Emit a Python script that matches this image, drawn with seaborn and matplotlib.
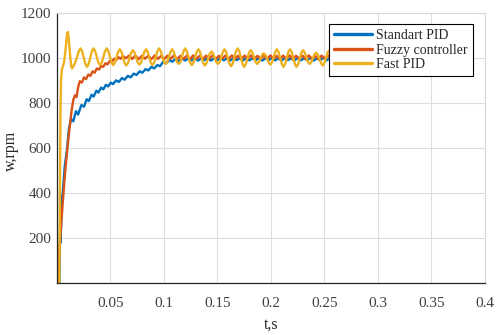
import matplotlib
matplotlib.use("Agg")
import matplotlib.pyplot as plt
from matplotlib.lines import Line2D
import seaborn as sns
import pandas as pd

# ---------------- data ----------------
series_names = ["Standart PID", "Fuzzy controller", "Fast PID"]

std_t = [0.0000, 0.0025, 0.0028, 0.0032, 0.0036, 0.0048, 0.0056, 0.0075, 0.0095, 0.0115,
         0.0135, 0.0155, 0.0180, 0.0200, 0.0230, 0.0255, 0.0280, 0.0300, 0.0325, 0.0345,
         0.0370, 0.0390, 0.0415, 0.0435, 0.0460, 0.0480, 0.0505, 0.0525, 0.0555, 0.0580,
         0.0610, 0.0635, 0.0665, 0.0690, 0.0720, 0.0745, 0.0775, 0.0800, 0.0830, 0.0855,
         0.0885, 0.0910, 0.0940, 0.0965, 0.0995, 0.1020, 0.1050, 0.1080, 0.1110, 0.1140,
         0.1170, 0.1200, 0.1230, 0.1260, 0.1290, 0.1320, 0.1350, 0.1380, 0.1410, 0.1440,
         0.1470, 0.1500, 0.1530, 0.1560, 0.1590, 0.1620, 0.1650, 0.1680, 0.1710, 0.1740,
         0.1770, 0.1800, 0.1830, 0.1860, 0.1890, 0.1920, 0.1950, 0.1980, 0.2010, 0.2040,
         0.2070, 0.2100, 0.2130, 0.2160, 0.2190, 0.2220, 0.2250, 0.2280, 0.2310, 0.2340,
         0.2370, 0.2400, 0.2430, 0.2460, 0.2490, 0.2520, 0.2550, 0.2580, 0.2600]
std_w = [0, 0, 80, 260, 180, 380, 400, 520, 590, 690,
         730, 720, 765, 750, 792, 785, 818, 810, 838, 830,
         856, 848, 870, 862, 882, 875, 892, 885, 902, 895,
         912, 905, 922, 915, 932, 926, 942, 936, 952, 946,
         962, 955, 970, 965, 985, 978, 992, 985, 998, 988,
         1000, 990, 1000, 991, 1002, 990, 1000, 992, 1001, 990,
         1000, 992, 1002, 991, 1000, 990, 1001, 992, 1000, 990,
         1002, 991, 1000, 992, 1001, 990, 1000, 992, 1002, 991,
         1000, 990, 1001, 992, 1000, 990, 1002, 991, 1000, 992,
         1001, 990, 1000, 992, 1002, 991, 1000, 993, 998]

fuzzy_t = [0.0000, 0.0006, 0.0020, 0.0040, 0.0060, 0.0080, 0.0100, 0.0120, 0.0140, 0.0155,
           0.0170, 0.0185, 0.0200, 0.0215, 0.0235, 0.0255, 0.0275, 0.0295, 0.0315, 0.0335,
           0.0355, 0.0375, 0.0395, 0.0415, 0.0435, 0.0455, 0.0475, 0.0495, 0.0515, 0.0535,
           0.0555, 0.0575, 0.0595, 0.0620, 0.0645, 0.0675, 0.0705, 0.0735, 0.0765, 0.0795,
           0.0825, 0.0855, 0.0885, 0.0915, 0.0945, 0.0975, 0.1005, 0.1035, 0.1065, 0.1095,
           0.1125, 0.1155, 0.1185, 0.1215, 0.1245, 0.1275, 0.1305, 0.1335, 0.1365, 0.1395,
           0.1425, 0.1455, 0.1485, 0.1515, 0.1545, 0.1575, 0.1605, 0.1635, 0.1665, 0.1695,
           0.1725, 0.1755, 0.1785, 0.1815, 0.1845, 0.1875, 0.1905, 0.1935, 0.1965, 0.1995,
           0.2025, 0.2055, 0.2085, 0.2115, 0.2145, 0.2175, 0.2205, 0.2235, 0.2265, 0.2295,
           0.2325, 0.2355, 0.2385, 0.2415, 0.2445, 0.2475, 0.2505, 0.2535, 0.2565, 0.2595]
fuzzy_w = [70, 0, 110, 250, 380, 500, 600, 690, 770, 815,
           835, 828, 870, 898, 892, 915, 908, 928, 922, 942,
           936, 955, 950, 966, 962, 978, 973, 988, 984, 998,
           992, 1005, 998, 1010, 1000, 1012, 997, 1013, 996, 1011,
           998, 1012, 996, 1013, 997, 1011, 996, 1012, 998, 1013,
           996, 1011, 997, 1012, 996, 1013, 998, 1011, 996, 1012,
           997, 1013, 996, 1011, 998, 1012, 996, 1013, 997, 1011,
           996, 1012, 998, 1013, 996, 1011, 997, 1012, 996, 1013,
           998, 1011, 996, 1012, 997, 1013, 996, 1011, 998, 1012,
           996, 1013, 997, 1011, 996, 1012, 998, 1013, 996, 1008]

fast_t = [0.0000, 0.0025, 0.0030, 0.0035, 0.0040, 0.0048, 0.0058, 0.0070, 0.0085, 0.0096,
          0.0103, 0.0110, 0.0122, 0.0135, 0.0143, 0.0152, 0.0170, 0.0190,
          0.0207, 0.0222, 0.0237, 0.0268, 0.0283, 0.0298, 0.0329, 0.0344, 0.0359,
          0.0390, 0.0405, 0.0420, 0.0452, 0.0467, 0.0482, 0.0513, 0.0528, 0.0543,
          0.0574, 0.0589, 0.0604, 0.0635, 0.0650, 0.0665, 0.0696, 0.0711, 0.0726,
          0.0757, 0.0772, 0.0787, 0.0819, 0.0834, 0.0849, 0.0880, 0.0895, 0.0910,
          0.0941, 0.0956, 0.0971, 0.1002, 0.1017, 0.1032, 0.1063, 0.1078, 0.1093,
          0.1124, 0.1139, 0.1154, 0.1185, 0.1200, 0.1215, 0.1247, 0.1262, 0.1277,
          0.1308, 0.1323, 0.1338, 0.1369, 0.1384, 0.1399, 0.1430, 0.1445, 0.1460,
          0.1491, 0.1506, 0.1521, 0.1552, 0.1567, 0.1582, 0.1613, 0.1628, 0.1643,
          0.1675, 0.1690, 0.1705, 0.1736, 0.1751, 0.1766, 0.1797, 0.1812, 0.1827,
          0.1858, 0.1873, 0.1888, 0.1919, 0.1934, 0.1949, 0.1980, 0.1995, 0.2010,
          0.2041, 0.2056, 0.2071, 0.2103, 0.2118, 0.2133, 0.2164, 0.2179, 0.2194,
          0.2225, 0.2240, 0.2255, 0.2286, 0.2301, 0.2316, 0.2347, 0.2362, 0.2377,
          0.2408, 0.2423, 0.2438, 0.2469, 0.2484, 0.2499, 0.2531, 0.2546, 0.2561,
          0.2600]
fast_w = [0, 0, 350, 750, 900, 950, 965, 985, 1050, 1105,
          1117, 1100, 1030, 965, 955, 962, 978, 1005,
          1032, 1044, 1032, 974, 962, 974, 1032, 1044, 1032,
          980, 970, 980, 1032, 1044, 1032, 980, 970, 980,
          1029, 1040, 1029, 978, 968, 978, 1026, 1036, 1026,
          981, 972, 981, 1029, 1040, 1029, 980, 970, 980,
          1032, 1044, 1032, 983, 975, 983, 1029, 1040, 1029,
          983, 975, 983, 1032, 1044, 1032, 980, 970, 980,
          1029, 1040, 1029, 978, 968, 978, 1022, 1030, 1022,
          983, 975, 983, 1029, 1040, 1029, 976, 965, 976,
          1032, 1044, 1032, 974, 962, 974, 1026, 1036, 1026,
          983, 975, 983, 1016, 1022, 1016, 981, 972, 981,
          1029, 1040, 1029, 974, 962, 974, 1029, 1040, 1029,
          974, 962, 974, 1026, 1036, 1026, 983, 975, 983,
          1018, 1025, 1018, 978, 968, 978, 1026, 1036, 1026,
          1000]

x_ticks = [0, 0.05, 0.1, 0.15, 0.2, 0.25, 0.3, 0.35, 0.4]
x_tick_labels = ["", "0.05", "0.1", "0.15", "0.2", "0.25", "0.3", "0.35", "0.4"]
y_ticks = [0, 200, 400, 600, 800, 1000, 1200]
y_tick_labels = ["", "200", "400", "600", "800", "1000", "1200"]
colors = ["#0072BD", "#D95319", "#EDB120"]

# ---------------- build long table ----------------
frames = []
for name, t, w in zip(series_names, [std_t, fuzzy_t, fast_t], [std_w, fuzzy_w, fast_w]):
    frames.append(pd.DataFrame({"t": t, "w": w, "series": name}))
df = pd.concat(frames, ignore_index=True)

sns.set_theme(style="whitegrid")
plt.rcParams["font.family"] = ["Liberation Serif", "DejaVu Serif"]

fig = plt.figure(figsize=(5.02, 3.35), dpi=100)
ax = fig.add_axes([56.7 / 502, (335 - 283.3) / 335, (485 - 56.7) / 502, (283.3 - 13.3) / 335])

sns.lineplot(data=df, x="t", y="w", hue="series", hue_order=series_names,
             palette=colors, estimator=None, sort=False, linewidth=1.7, ax=ax,
             legend=False)
for ln in ax.lines:
    ln.set_solid_joinstyle("round")

ax.set_xlim(0, 0.4)
ax.set_ylim(0, 1200)
ax.set_xticks(x_ticks)
ax.set_xticklabels(x_tick_labels)
ax.set_yticks(y_ticks)
ax.set_yticklabels(y_tick_labels)
ax.tick_params(axis="both", labelsize=11, labelcolor="#404040", direction="in",
               length=4, width=0.8, color="#262626")
ax.tick_params(axis="x", pad=10)
ax.tick_params(axis="y", pad=4)
ax.grid(True, color="#dedede", linewidth=0.8)
ax.set_facecolor("white")
for side in ["left", "bottom"]:
    ax.spines[side].set_color("#262626")
    ax.spines[side].set_linewidth(0.9)
for side in ["top", "right"]:
    ax.spines[side].set_color("#d8d8d8")
    ax.spines[side].set_linewidth(0.8)

ax.set_xlabel("t,s", fontsize=11.5, color="#262626", labelpad=5)
ax.set_ylabel("w,rpm", fontsize=11.5, color="#262626")
ax.yaxis.set_label_coords(-0.088, 0.49)

handles = [Line2D([0], [0], color=c, linewidth=2.4) for c in colors]
leg = ax.legend(handles, series_names, loc="upper right", bbox_to_anchor=(0.972, 0.962),
                borderaxespad=0, fontsize=10, handlelength=2.7, handletextpad=0.3,
                labelspacing=0.1, borderpad=0.4, frameon=True, fancybox=False)
leg.get_frame().set_edgecolor("black")
leg.get_frame().set_linewidth(0.8)
leg.get_frame().set_alpha(1)

fig.savefig("out.png", dpi=100)
